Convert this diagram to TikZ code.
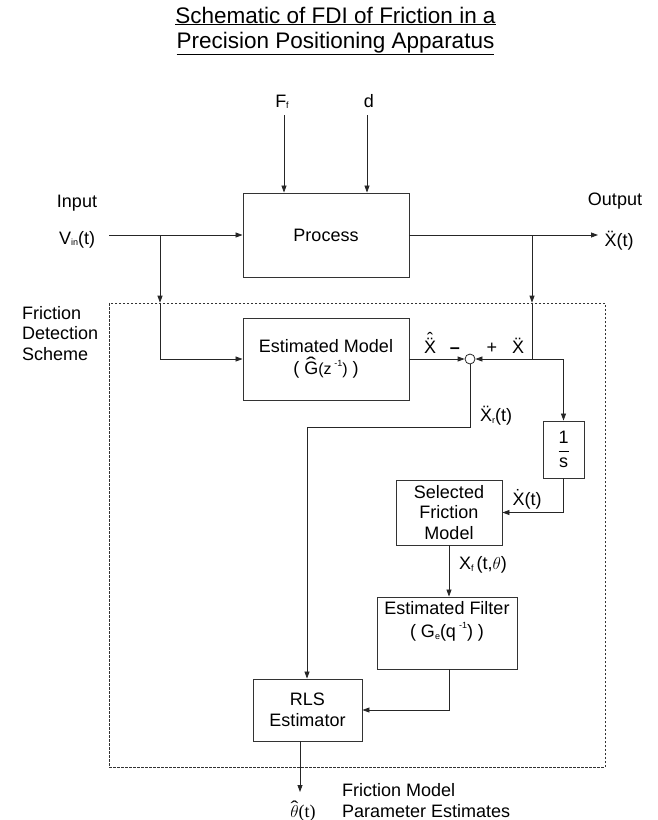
\documentclass[tikz,border=0pt]{standalone}
\usepackage{fontspec}
\usepackage{graphicx}
\setmainfont{Liberation Sans}
\newfontfamily\serifl{Liberation Serif}
\usetikzlibrary{arrows.meta}
\newcommand{\lblfont}{\fontsize{18}{20.5}\selectfont}
\newcommand{\ttlfont}{\fontsize{22.5}{25}\selectfont}
\newcommand{\lsub}[1]{\raisebox{-0.1em}{\fontsize{9}{9}\selectfont #1}}
\newcommand{\lsup}[1]{\raisebox{0.5em}{\fontsize{9}{9}\selectfont #1}}
\newcommand{\accover}[3]{\ooalign{#1\cr\hidewidth\raisebox{#3}{#2}\hidewidth\cr}}
\newcommand{\ddX}{\accover{X}{¨}{0.14em}}
\newcommand{\dX}{\accover{X}{˙}{0.14em}}
\newcommand{\hddX}{\ooalign{X\cr\hidewidth\raisebox{0.14em}{¨}\hidewidth\cr\hidewidth\raisebox{0.42em}{ˆ}\hidewidth\cr}}
\newcommand{\hG}{\ooalign{G\cr\hidewidth\raisebox{0.2em}{\scalebox{1.7}[1.1]{ˆ}}\hidewidth\cr}}
\newcommand{\htheta}{{\serifl\ooalign{$\theta$\cr\hidewidth\raisebox{0.22em}{\scalebox{1.3}[1]{ˆ}}\hidewidth\cr}}}
\tikzset{
  wire/.style={line width=0.8pt, draw=black!85},
  arr/.style={wire, -{Triangle[length=7pt,width=5pt]}},
  blk/.style={draw=black!80, line width=0.9pt, inner sep=0pt, align=center, font=\lblfont},
  txt/.style={inner sep=0pt, font=\lblfont},
  dashbox/.style={draw=black!80, line width=0.6pt, dash pattern=on 2.5pt off 1.5pt, inner sep=0pt}
}
\begin{document}
\begin{tikzpicture}[x=1pt,y=-1pt]
\useasboundingbox (0,0) rectangle (658,820);
% title
\node[inner sep=0pt, font=\ttlfont, anchor=base] (title1) at (335.5,23) {\underline{Schematic of FDI of Friction in a}};
\node[inner sep=0pt, font=\ttlfont, anchor=base] (title2) at (335.5,48) {\underline{Precision Positioning Apparatus}};
% dashed frame
\node[dashbox, minimum width=496pt, minimum height=464pt] (fds) at (357,535) {};
% blocks
\node[blk, minimum width=166pt, minimum height=84pt] (process) at (326,235) {Process};
\node[blk, minimum width=166pt, minimum height=82pt] (estmodel) at (326,359) {Estimated Model\\[2pt]( \hG{\fontsize{16}{16}\selectfont(z\,\lsup{-1})} )};
\node[draw=black!85, circle, minimum size=10pt, inner sep=0pt, line width=0.8pt] (sum) at (470,359) {};
\node[blk, minimum width=41pt, minimum height=57pt] (invs) at (563.5,449.5) {$\displaystyle\frac{\mbox{1}}{\mbox{s}}$};
\node[blk, minimum width=106pt, minimum height=65pt] (selfric) at (449,512.5) {Selected\\Friction\\Model};
\node[blk, minimum width=140pt, minimum height=72pt] (estfilter) at (447,633) {};
\node[txt, align=center] (estfiltertxt) at (447,621.5) {Estimated Filter\\[2pt]( G\lsub{e}(q\,\lsup{-1}) )};
\node[blk, minimum width=109pt, minimum height=62pt] (rls) at (307.5,710) {RLS\\Estimator};
% labels
\node[txt, anchor=base] (inlbl) at (77,207.5) {Input};
\node[txt, anchor=base] (vinlbl) at (77,244) {V\lsub{in}(t)};
\node[txt, anchor=base] (outlbl) at (615,205.5) {Output};
\node[txt, anchor=base] (xddlbl) at (619,246) {\ddX(t)};
\node[txt, anchor=base] (fflbl) at (282,107) {F\lsub{f}};
\node[txt, anchor=base] (dlbl) at (369,107) {d};
\node[txt, anchor=north west, align=left] (fdslbl) at (22,306) {Friction\\Detection\\Scheme};
\node[txt, anchor=base] (xhat) at (430,353.5) {\hddX};
\node[txt, anchor=base] (minus) at (455,353.5) {\textbf{–}};
\node[txt, anchor=base] (plus) at (492,353.5) {+};
\node[txt, anchor=base] (xdd) at (518,353.5) {\ddX};
\node[txt, anchor=base] (xrlbl) at (496,421.5) {\ddX\lsub{r}(t)};
\node[txt, anchor=base] (xdlbl) at (527,505.5) {\dX(t)};
\node[txt, anchor=base] (xflbl) at (483,569.5) {X\lsub{f}\,(t,$\theta$)};
\node[txt, anchor=base] (thlbl) at (303,817) {\htheta{\serifl(t)}};
\node[txt, anchor=north west, align=left] (fmlbl) at (342,783.3) {Friction Model\\Parameter Estimates};
% coordinates
\coordinate (ffs) at (284,115);
\coordinate (dss) at (367,115);
\coordinate (vins) at (109,235);
\coordinate (oute) at (598,235);
\coordinate (bl) at (160,235);
\coordinate (br) at (532,235);
\coordinate (brj) at (532,359);
\coordinate (c1) at (307,427);
\coordinate (the) at (300,792);
% connectors
\draw[arr] (ffs) -- (ffs |- process.north);
\draw[arr] (dss) -- (dss |- process.north);
\draw[arr] (vins) -- (process.west);
\draw[arr] (process.east) -- (oute);
\draw[arr] (bl) -- (bl |- fds.north);
\draw[arr] (bl |- fds.north) |- (estmodel.west);
\draw[arr] (br) -- (br |- fds.north);
\draw[wire] (br |- fds.north) -- (brj);
\draw[arr] (brj) -- (sum.east);
\draw[arr] (brj) -| (invs.north);
\draw[arr] (estmodel.east) -- (sum.west);
\draw[arr] (sum.south) |- (c1) -- (c1 |- rls.north);
\draw[arr] (invs.south) |- (selfric.east);
\draw[arr] (selfric.south) -- (selfric.south |- estfilter.north);
\draw[arr] (selfric.south |- estfilter.south) |- (rls.east);
\draw[arr] (rls.south -| the) -- (the);
\end{tikzpicture}
\end{document}
